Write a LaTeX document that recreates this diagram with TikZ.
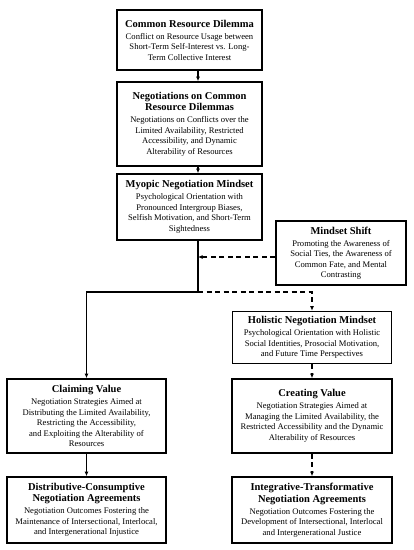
\documentclass[tikz,border=0pt]{standalone}
\usepackage{fontspec}
\setmainfont{Liberation Serif}
\usetikzlibrary{arrows.meta}
\newcommand{\ttl}{\fontsize{10.5}{13}\selectfont\bfseries}
\newcommand{\bdy}{\fontsize{8.6}{10.5}\selectfont}
\tikzset{
  box/.style={draw, line width=1.7pt, align=center, inner sep=0pt, font=\bdy},
  conn/.style={line width=1.3pt, -{Latex[length=4.5pt,width=4pt]}},
  dconn/.style={conn, dash pattern=on 5pt off 3.5pt},
}
\begin{document}
\begin{tikzpicture}[x=1pt,y=-1pt]
\useasboundingbox (0,0) rectangle (414,550);
\node[box, minimum width=145, minimum height=60] (b1) at (189.5,40)
 {{\ttl Common Resource Dilemma}\\[1.5pt]Conflict on Resource Usage between\\Short-Term Self-Interest vs. Long-\\Term Collective Interest};
\node[box, minimum width=145, minimum height=84] (b2) at (189.5,124)
 {{\ttl Negotiations on Common}\\[1pt]{\ttl Resource Dilemmas}\\[1.5pt]Negotiations on Conflicts over the\\Limited Availability, Restricted\\Accessibility, and Dynamic\\Alterability of Resources};
\node[box, minimum width=145, minimum height=66] (b3) at (189.5,207)
 {{\ttl Myopic Negotiation Mindset}\\[1.5pt]Psychological Orientation with\\Pronounced Intergroup Biases,\\Selfish Motivation, and Short-Term\\Sightedness};
\node[box, minimum width=130, minimum height=64] (shift) at (341,253)
 {{\ttl Mindset Shift}\\[1.5pt]Promoting the Awareness of\\Social Ties, the Awareness of\\Common Fate, and Mental\\Contrasting};
\node[box, minimum width=159, minimum height=52] (holi) at (312,337.5)
 {{\ttl Holistic Negotiation Mindset}\\[1.5pt]Psychological Orientation with Holistic\\Social Identities, Prosocial Motivation,\\and Future Time Perspectives};
\node[box, minimum width=159, minimum height=74] (claim) at (86.5,416)
 {{\ttl Claiming Value}\\[1.5pt]Negotiation Strategies Aimed at\\Distributing the Limited Availability,\\Restricting the Accessibility,\\and Exploiting the Alterability of\\Resources};
\node[box, minimum width=160, minimum height=74] (create) at (312,416)
 {{\ttl Creating Value}\\[1.5pt]Negotiation Strategies Aimed at\\Managing the Limited Availability, the\\Restricted Accessibility and the Dynamic\\Alterability of Resources};
\node[box, minimum width=159, minimum height=66] (distr) at (86.5,510)
 {{\ttl Distributive-Consumptive}\\[1pt]{\ttl Negotiation Agreements}\\[1.5pt]Negotiation Outcomes Fostering the\\Maintenance of Intersectional, Interlocal,\\and Intergenerational Injustice};
\node[box, minimum width=160, minimum height=66] (integ) at (312,510)
 {{\ttl Integrative-Transformative}\\[1pt]{\ttl Negotiation Agreements}\\[1.5pt]Negotiation Outcomes Fostering the\\Development of Intersectional, Interlocal\\and Intergenerational Justice};
\coordinate (ax) at (198,0);
\coordinate (j) at (198,292);
\coordinate (m) at (198,257);
\draw[conn] (b1.south -| ax) -- (b2.north -| ax);
\draw[conn] (b2.south -| ax) -- (b3.north -| ax);
\draw[conn] (b3.south -| ax) -- (j) -| (claim.north);
\draw[dconn] (j) -| (holi.north);
\draw[dconn] (shift.west |- m) -- (m);
\draw[dconn] (holi.south) -- (create.north);
\draw[conn] (claim.south) -- (distr.north);
\draw[dconn] (create.south) -- (integ.north);
\end{tikzpicture}
\end{document}
